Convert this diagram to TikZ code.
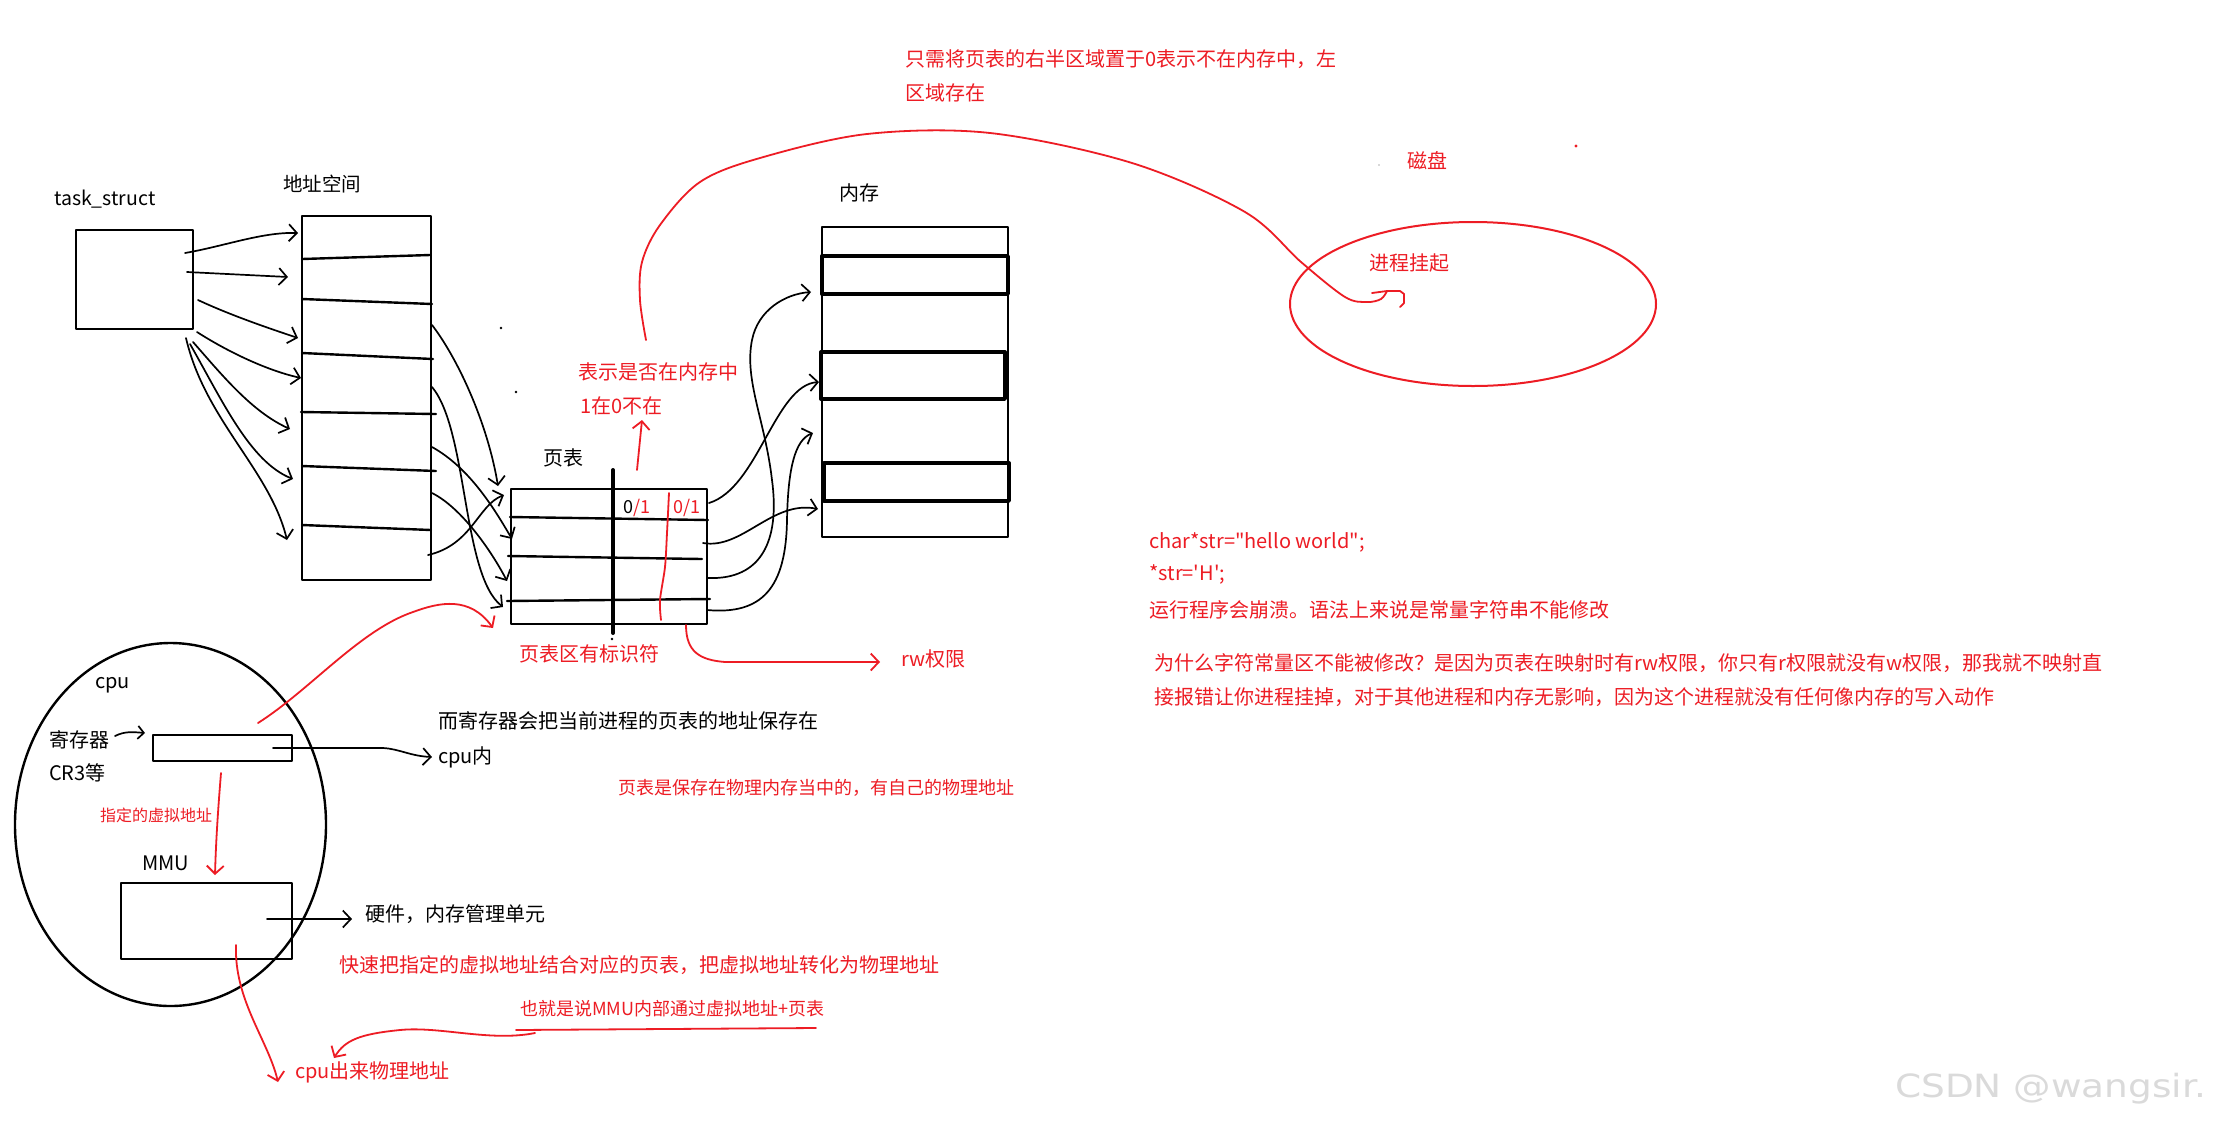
\documentclass[tikz,border=0pt]{standalone}
\usepackage{fontspec}
\newfontfamily\cjk{Noto Sans CJK SC}
\newfontfamily\wmfont{DejaVu Sans}
\usetikzlibrary{arrows.meta,shapes.geometric}
\definecolor{pred}{HTML}{ED1C24}
\definecolor{wmgray}{HTML}{DADADA}
\tikzset{
  box/.style={draw=black, line width=2.4pt, inner sep=0pt, anchor=north west},
  rowline/.style={draw=black, line width=2.4pt},
  thickrect/.style={draw=black, line width=3.4pt},
  tx/.style={inner sep=0pt, anchor=west, font=\cjk\fontsize{20}{24}\selectfont},
  rtx/.style={tx, text=pred},
  blk/.style={draw=black, line width=1.7pt},
  rline/.style={draw=pred, line width=1.8pt},
  harrow/.style={-{Straight Barb[length=8pt,width=17pt]}},
  sarrow/.style={-{Straight Barb[length=6pt,width=13pt]}},
}
\begin{document}
\begin{tikzpicture}[x=1pt,y=-1pt,line cap=round,line join=round]
\useasboundingbox (0,0) rectangle (2218,1125);
\fill[white] (0,0) rectangle (2218,1125);

% ---------------- boxes ----------------
\node[tx, font=\cjk\fontsize{19.5}{22}\selectfont] (tsl) at (54,199) {task\_struct};
\node[box, minimum width=117pt, minimum height=99pt] (ts) at (75,229) {};

\node[tx, font=\cjk\fontsize{19.5}{22}\selectfont] (asl) at (283,184) {地址空间};
\node[box, minimum width=129pt, minimum height=364pt] (as) at (301,215) {};
\draw[rowline] (302,259) -- (430,255);
\draw[rowline] (302,299) -- (432,304);
\draw[rowline] (302,353) -- (433,359);
\draw[rowline] (301,412) -- (436,414);
\draw[rowline] (302,466) -- (436,471);
\draw[rowline] (302,525) -- (431,530);

\node[tx] (ptl) at (543,458) {页表};
\node[box, minimum width=196pt, minimum height=135pt] (pt) at (510,488) {};
\draw[rowline] (510,517) -- (708,520);
\draw[rowline] (508,556) -- (702,559);
\draw[rowline] (507,601) -- (710,599);
\draw[draw=black, line width=4pt] (613,470) -- (613,633);
\draw[rline] plot[smooth] coordinates {(669,493) (667,533) (665,567) (660,600) (661,620)};
\node[rtx, font=\cjk\fontsize{18}{20}\selectfont] (bit1) at (623,508) {{\color{black}0}/1};
\node[rtx, font=\cjk\fontsize{18}{20}\selectfont] (bit2) at (673,508) {0/1};

\node[tx] (meml) at (839,193) {内存};
\node[box, minimum width=186pt, minimum height=310pt] (mem) at (821,226) {};
\draw[thickrect] (822,256) rectangle (1008,294);
\draw[thickrect] (821,352) rectangle (1005,399);
\draw[thickrect] (824,463) rectangle (1009,501);

% ---------------- cpu ----------------
\node[ellipse, draw=black, line width=2.4pt, minimum width=311pt, minimum height=363pt, inner sep=0pt] (cpu) at (170.5,824.5) {};
\node[tx] (cpul) at (95,685) {cpu};
\node[tx] (regl) at (49,740) {寄存器};
\node[tx] (cr3) at (49,773) {CR3等};
\node[box, minimum width=139pt, minimum height=26pt] (reg) at (152,734) {};
\node[tx] (mmul) at (142,863) {MMU};
\node[box, minimum width=171pt, minimum height=76pt] (mmu) at (120,882) {};

% ---------------- disk ----------------
\node[ellipse, draw=pred, line width=2pt, minimum width=366pt, minimum height=164pt, inner sep=0pt] (disk) at (1473,304) {};

% ---------------- texts ----------------
\node[rtx] (t1) at (905,59) {只需将页表的右半区域置于0表示不在内存中，左};
\node[rtx] (t2) at (905,93) {区域存在};
\node[rtx] (diskl) at (1407,161) {磁盘};
\node[rtx] (hang) at (1369,263) {进程挂起};
\node[rtx] (inmem) at (578,372) {表示是否在内存中};
\node[rtx] (onezero) at (580,406) {1在0不在};
\node[rtx] (ident) at (519,654) {页表区有标识符};
\node[rtx] (rw) at (901,659) {rw权限};
\node[rtx] (c1) at (1149,542) {char*str=\symbol{34}hello world\symbol{34};};
\node[rtx] (c2) at (1149,574) {*str=\symbol{39}H\symbol{39};};
\node[rtx] (c3) at (1149,610) {运行程序会崩溃。语法上来说是常量字符串不能修改};
\node[rtx] (c4) at (1154,663) {为什么字符常量区不能被修改？是因为页表在映射时有rw权限，你只有r权限就没有w权限，那我就不映射直};
\node[rtx] (c5) at (1154,697) {接报错让你进程挂掉，对于其他进程和内存无影响，因为这个进程就没有任何像内存的写入动作};
\node[tx] (save) at (438,721) {而寄存器会把当前进程的页表的地址保存在};
\node[tx] (cpuin) at (438,757) {cpu内};
\node[rtx, font=\cjk\fontsize{18}{20}\selectfont] (ptmem) at (618,788) {页表是保存在物理内存当中的，有自己的物理地址};
\node[rtx, font=\cjk\fontsize{16}{18}\selectfont] (va) at (100,815) {指定的虚拟地址};
\node[tx] (hw) at (365,914) {硬件，内存管理单元};
\node[rtx] (fast) at (339,965) {快速把指定的虚拟地址结合对应的页表，把虚拟地址转化为物理地址};
\node[rtx, font=\cjk\fontsize{18}{20}\selectfont] (mmuin) at (520,1009) {也就是说MMU内部通过虚拟地址+页表};
\node[rtx] (pa) at (295,1072) {cpu出来物理地址};
\node[inner sep=0pt, anchor=west, text=wmgray, font=\wmfont\fontsize{32}{36}\selectfont] (wm) at (1895,1089) {\scalebox{1.17}[1]{CSDN @wangsir.}};

% ---------------- coordinates ----------------
\coordinate (t1s) at (185,253); \coordinate (t1e) at (298,233);
\coordinate (t2s) at (187,272); \coordinate (t2e) at (288,277);
\coordinate (t3s) at (198,300); \coordinate (t3e) at (298,338);
\coordinate (t4s) at (197,332); \coordinate (t4e) at (301,378);
\coordinate (t5s) at (193,342); \coordinate (t5e) at (290,429);
\coordinate (t6s) at (190,344); \coordinate (t6e) at (293,479);
\coordinate (t7s) at (186,338); \coordinate (t7e) at (287,540);

\coordinate (pas) at (432,325); \coordinate (pae) at (498,486);
\coordinate (pbs) at (432,387); \coordinate (pbe) at (503,607);
\coordinate (pcs) at (432,447); \coordinate (pce) at (512,539);
\coordinate (pds) at (432,493); \coordinate (pde) at (507,581);
\coordinate (pes) at (428,555); \coordinate (pee) at (504,495);

\coordinate (m1s) at (709,503); \coordinate (m1e) at (819,382);
\coordinate (m2s) at (703,543); \coordinate (m2e) at (818,509);
\coordinate (m3s) at (708,578); \coordinate (m3e) at (811,292);
\coordinate (m4s) at (707,610); \coordinate (m4e) at (813,433);

\coordinate (rgs) at (115,736); \coordinate (rge) at (145,733);
\coordinate (cis) at (273,748); \coordinate (cie) at (432,757);
\coordinate (hws) at (267,919); \coordinate (hwe) at (352,919);

% ---------------- black connectors ----------------
\draw[blk,harrow] (t1s) .. controls (225,246) and (262,232) .. (t1e);
\draw[blk,harrow] (t2s) -- (t2e);
\draw[blk,harrow] (t3s) .. controls (230,315) and (268,328) .. (t3e);
\draw[blk,harrow] (t4s) .. controls (225,350) and (265,370) .. (t4e);
\draw[blk,harrow] (t5s) .. controls (222,375) and (252,412) .. (t5e);
\draw[blk,harrow] (t6s) .. controls (222,400) and (250,462) .. (t6e);
\draw[blk,harrow] (t7s) .. controls (205,420) and (270,470) .. (t7e);

\draw[blk,harrow] (pas) .. controls (456,356) and (487,420) .. (pae);
\draw[blk,harrow] (pbs) .. controls (468,430) and (462,575) .. (pbe);
\draw[blk,harrow] (pcs) .. controls (470,468) and (495,510) .. (pce);
\draw[blk,harrow] (pds) .. controls (462,508) and (492,552) .. (pde);
\draw[blk,harrow] (pes) .. controls (472,545) and (478,505) .. (pee);

\draw[blk,harrow] (m1s) .. controls (758,488) and (775,385) .. (m1e);
\draw[blk,harrow] (m2s) .. controls (742,550) and (772,500) .. (m2e);
\draw[blk,harrow] (m3s) .. controls (762,580) and (780,540) .. (772,480)
                   .. controls (765,420) and (744,380) .. (752,340)
                   .. controls (758,310) and (785,294) .. (m3e);
\draw[blk,harrow] (m4s) .. controls (762,615) and (786,588) .. (787,520)
                   .. controls (788,468) and (795,440) .. (m4e);

\draw[blk,sarrow] (rgs) .. controls (125,731) and (133,732) .. (rge);
\draw[blk,harrow] (cis) -- (383,748) .. controls (400,749) and (410,756) .. (cie);
\draw[blk,harrow] (hws) -- (hwe);

% ---------------- red connectors ----------------
\coordinate (r1s) at (258,723); \coordinate (r1e) at (493,628);
\draw[rline,harrow] (r1s) .. controls (310,690) and (360,630) .. (413,612)
                   .. controls (440,602) and (470,596) .. (r1e);
\coordinate (r2s) at (221,773); \coordinate (r2e) at (215,875);
\draw[rline,harrow] (r2s) .. controls (218,810) and (216,840) .. (r2e);
\coordinate (r3s) at (236,945); \coordinate (r3e) at (278,1082);
\draw[rline,harrow] (r3s) .. controls (234,1000) and (268,1040) .. (r3e);
\coordinate (ulS) at (516,1030); \coordinate (ulE) at (816,1028);
\draw[rline] (ulS) -- (ulE);
\coordinate (r5s) at (535,1033); \coordinate (r5e) at (334,1058);
\draw[rline,harrow] (r5s) .. controls (490,1042) and (440,1026) .. (400,1030)
                   .. controls (360,1034) and (345,1040) .. (r5e);
\coordinate (r6s) at (686,625); \coordinate (r6e) at (880,662);
\draw[rline,harrow] (r6s) .. controls (686,652) and (700,660) .. (725,662) -- (r6e);
\coordinate (r7s) at (637,470); \coordinate (r7e) at (642,420);
\draw[rline,harrow] (r7s) -- (r7e);

% big red curve to disk
\coordinate (bigS) at (646,340); \coordinate (bigE) at (1387,291);
\draw[rline] plot[smooth, tension=0.55] coordinates {(bigS) (640,300) (642,262) (660,225) (700,182) (760,158) (867,134) (990,133) (1132,163) (1245,212) (1301,262) (1345,297) (1367,302) (1381,299) (bigE)};
\draw[rline] (1372,293) -- (bigE) -- (1400,291) -- (1404,294) -- (1404,303) -- (1400,307);

% specks
\fill[black] (501,328) circle (1.3pt);
\fill[black] (516,392) circle (1.3pt);
\fill[black] (612,639) circle (1.3pt);
\fill[pred] (1576,146) circle (1.6pt);
\fill[gray!60] (1379,165) circle (0.8pt);
\end{tikzpicture}
\end{document}
